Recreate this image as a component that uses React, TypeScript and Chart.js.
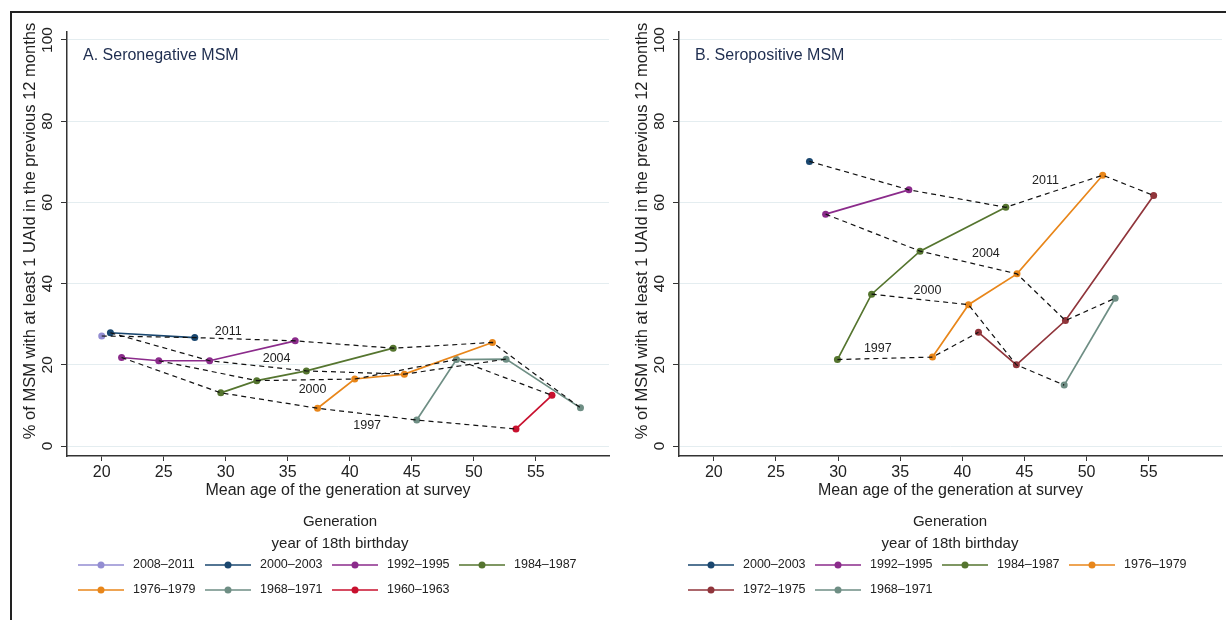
import React, { useEffect, useRef } from 'react';
import { Chart, registerables } from 'chart.js';

Chart.register(...registerables);

const FONT = '"Liberation Sans", Arial, Helvetica, sans-serif';

// ---- shared axis ticks / surveys ----
const xTicks = [20, 25, 30, 35, 40, 45, 50, 55];
const yTicks = [0, 20, 40, 60, 80, 100];
const surveyYears = ['1997', '2000', '2004', '2011'];
const yTitle = '% of MSM with at least 1 UAId in the previous 12 months';

// ---- Panel A: seronegative MSM (values per survey 1997, 2000, 2004, 2011) ----
const genLabelsA = ['2008–2011', '2000–2003', '1992–1995', '1984–1987', '1976–1979', '1968–1971', '1960–1963'];
const A_age_2008 = [null, null, null, 20.0];
const A_pct_2008 = [null, null, null, 27.1];
const A_age_2000 = [null, null, 20.7, 27.5];
const A_pct_2000 = [null, null, 27.9, 26.7];
const A_age_1992 = [21.6, 24.6, 28.7, 35.6];
const A_pct_1992 = [21.8, 21.0, 21.0, 25.9];
const A_age_1984 = [29.6, 32.5, 36.5, 43.5];
const A_pct_1984 = [13.1, 16.1, 18.5, 24.1];
const A_age_1976 = [37.4, 40.4, 44.4, 51.5];
const A_pct_1976 = [9.3, 16.5, 17.7, 25.5];
const A_age_1968 = [45.4, 48.6, 52.6, 58.6];
const A_pct_1968 = [6.4, 21.3, 21.4, 9.4];
const A_age_1960 = [53.4, 56.3, null, null];
const A_pct_1960 = [4.2, 12.5, null, null];
const surveyLabelAgeA = [41.4, 37.0, 34.1, 30.2];
const surveyLabelPctA = [5.0, 13.8, 21.6, 28.1];

// ---- Panel B: seropositive MSM ----
const genLabelsB = ['2000–2003', '1992–1995', '1984–1987', '1976–1979', '1972–1975', '1968–1971'];
const B_age_2000 = [null, null, null, 27.7];
const B_pct_2000 = [null, null, null, 70.1];
const B_age_1992 = [null, null, 29.0, 35.7];
const B_pct_1992 = [null, null, 57.1, 63.1];
const B_age_1984 = [29.95, 32.7, 36.6, 43.5];
const B_pct_1984 = [21.3, 37.4, 48.0, 58.8];
const B_age_1976 = [37.6, 40.5, 44.4, 51.3];
const B_pct_1976 = [21.9, 34.8, 42.4, 66.7];
const B_age_1972 = [41.3, 44.35, 48.3, 55.4];
const B_pct_1972 = [28.0, 20.0, 30.9, 61.7];
const B_age_1968 = [null, 48.2, 52.3, null];
const B_pct_1968 = [null, 15.0, 36.4, null];
const surveyLabelAgeB = [33.2, 37.2, 41.9, 46.7];
const surveyLabelPctB = [24.1, 38.4, 47.5, 65.5];

const genColors: Record<string, string> = {
  '2008–2011': '#938dd2',
  '2000–2003': '#1a476f',
  '1992–1995': '#8b2b8b',
  '1984–1987': '#55752f',
  '1976–1979': '#e8861a',
  '1972–1975': '#90353b',
  '1968–1971': '#6e8e84',
  '1960–1963': '#c8102e',
};

type Num = number | null;

function buildDatasets(labels: string[], ages: Num[][], pcts: Num[][]) {
  const genSets = labels.map((lab, i) => {
    const pts: { x: number; y: number }[] = [];
    ages[i].forEach((a, s) => {
      const p = pcts[i][s];
      if (a != null && p != null) pts.push({ x: a, y: p });
    });
    const c = genColors[lab];
    return {
      label: lab,
      data: pts,
      borderColor: c,
      backgroundColor: c,
      pointBackgroundColor: c,
      pointBorderColor: c,
      borderWidth: 1.7,
      pointRadius: 3.5,
      pointBorderWidth: 0,
      order: 2,
      isSurvey: false,
    };
  });
  const surveySets = surveyYears.map((yr, s) => {
    const pts: { x: number; y: number }[] = [];
    labels.forEach((_, i) => {
      const a = ages[i][s];
      const p = pcts[i][s];
      if (a != null && p != null) pts.push({ x: a, y: p });
    });
    pts.sort((p, q) => p.x - q.x);
    return {
      label: 'Survey ' + yr,
      data: pts,
      borderColor: '#111111',
      backgroundColor: '#111111',
      borderWidth: 1.2,
      borderDash: [5, 4],
      pointRadius: 0,
      order: 1,
      isSurvey: true,
    };
  });
  return [...genSets, ...surveySets];
}

interface PanelCfg {
  title: string;
  labels: string[];
  ages: Num[][];
  pcts: Num[][];
  labAge: number[];
  labPct: number[];
  padLeft: number;
  yWidth: number;
  legendCenter: number;
}

const panelA: PanelCfg = {
  title: 'A. Seronegative MSM',
  labels: genLabelsA,
  ages: [A_age_2008, A_age_2000, A_age_1992, A_age_1984, A_age_1976, A_age_1968, A_age_1960],
  pcts: [A_pct_2008, A_pct_2000, A_pct_1992, A_pct_1984, A_pct_1976, A_pct_1968, A_pct_1960],
  labAge: surveyLabelAgeA,
  labPct: surveyLabelPctA,
  padLeft: 0,
  yWidth: 54,
  legendCenter: 327,
};

const panelB: PanelCfg = {
  title: 'B. Seropositive MSM',
  labels: genLabelsB,
  ages: [B_age_2000, B_age_1992, B_age_1984, B_age_1976, B_age_1972, B_age_1968],
  pcts: [B_pct_2000, B_pct_1992, B_pct_1984, B_pct_1976, B_pct_1972, B_pct_1968],
  labAge: surveyLabelAgeB,
  labPct: surveyLabelPctB,
  padLeft: 13,
  yWidth: 53,
  legendCenter: 337,
};

function makeOverlay(cfg: PanelCfg) {
  return {
    id: 'overlay',
    afterDraw(chart: any) {
      const ctx = chart.ctx as CanvasRenderingContext2D;
      const area = chart.chartArea;
      const xs = chart.scales.x;
      const ys = chart.scales.y;
      ctx.save();
      // rotated y tick labels
      ctx.fillStyle = '#222';
      ctx.font = `15.5px ${FONT}`;
      ctx.textAlign = 'center';
      ctx.textBaseline = 'middle';
      yTicks.forEach((v) => {
        const py = ys.getPixelForValue(v);
        ctx.save();
        ctx.translate(area.left - 19, py);
        ctx.rotate(-Math.PI / 2);
        ctx.fillText(String(v), 0, 0);
        ctx.restore();
      });
      // y axis title
      ctx.save();
      ctx.font = `16.5px ${FONT}`;
      ctx.translate(area.left - 37, 217);
      ctx.rotate(-Math.PI / 2);
      ctx.fillText(yTitle, 0, 0);
      ctx.restore();
      // panel title
      ctx.fillStyle = '#1e2d4f';
      ctx.font = `16px ${FONT}`;
      ctx.textAlign = 'left';
      ctx.fillText(cfg.title, area.left + 16, area.top + 24);
      // survey labels
      ctx.fillStyle = '#222';
      ctx.font = `12.5px ${FONT}`;
      ctx.textAlign = 'center';
      surveyYears.forEach((yr, i) => {
        ctx.fillText(yr, xs.getPixelForValue(cfg.labAge[i]), ys.getPixelForValue(cfg.labPct[i]));
      });
      // legend
      const cx = cfg.legendCenter;
      ctx.font = `15px ${FONT}`;
      ctx.fillStyle = '#222';
      ctx.fillText('Generation', cx, 508);
      ctx.fillText('year of 18th birthday', cx, 530);
      const gens = chart.data.datasets.filter((d: any) => !d.isSurvey);
      ctx.font = `12.5px ${FONT}`;
      ctx.textAlign = 'left';
      gens.forEach((d: any, i: number) => {
        const col = i % 4;
        const row = Math.floor(i / 4);
        const x0 = cx - 262 + col * 127;
        const y = 551 + row * 25;
        ctx.strokeStyle = d.borderColor;
        ctx.lineWidth = 1.7;
        ctx.beginPath();
        ctx.moveTo(x0, y);
        ctx.lineTo(x0 + 46, y);
        ctx.stroke();
        ctx.fillStyle = d.borderColor;
        ctx.beginPath();
        ctx.arc(x0 + 23, y, 3.5, 0, Math.PI * 2);
        ctx.fill();
        ctx.fillStyle = '#222';
        ctx.fillText(d.label, x0 + 55, y);
      });
      ctx.restore();
    },
  };
}

function Panel({ cfg, left, width }: { cfg: PanelCfg; left: number; width: number }) {
  const ref = useRef<HTMLCanvasElement | null>(null);
  useEffect(() => {
    if (!ref.current) return;
    const chart = new Chart(ref.current, {
      type: 'line',
      data: { datasets: buildDatasets(cfg.labels, cfg.ages, cfg.pcts) as any },
      options: {
        animation: false,
        responsive: true,
        maintainAspectRatio: false,
        layout: { padding: { left: cfg.padLeft, right: 4, top: 18, bottom: 114 } },
        plugins: { legend: { display: false }, tooltip: { enabled: false } },
        elements: { line: { tension: 0 } },
        scales: {
          x: {
            type: 'linear',
            min: 17.2,
            max: 60.9,
            afterFit: (s: any) => {
              s.height = 50;
            },
            afterBuildTicks: (s: any) => {
              s.ticks = xTicks.map((v) => ({ value: v }));
            },
            ticks: {
              font: { family: FONT, size: 16 },
              color: '#222',
              padding: 2,
              maxRotation: 0,
              autoSkip: false,
            },
            grid: { drawOnChartArea: false, drawTicks: true, tickLength: 5, tickColor: '#333' },
            border: { color: '#333', width: 1.5 },
            title: {
              display: true,
              text: 'Mean age of the generation at survey',
              font: { family: FONT, size: 16 },
              color: '#222',
              padding: { top: 0, bottom: 6 },
            },
          },
          y: {
            type: 'linear',
            min: -2.46,
            max: 101.97,
            afterFit: (s: any) => {
              s.width = cfg.yWidth;
            },
            afterBuildTicks: (s: any) => {
              s.ticks = yTicks.map((v) => ({ value: v }));
            },
            ticks: { display: false },
            grid: { color: '#e4edf0', lineWidth: 1, tickLength: 6, tickColor: '#333' },
            border: { color: '#333', width: 1.5 },
            title: { display: false },
          },
        },
      } as any,
      plugins: [makeOverlay(cfg)],
    });
    return () => chart.destroy();
  }, [cfg]);
  return (
    <div style={{ position: 'absolute', left, top: 14, width, height: 606 }}>
      <canvas ref={ref} />
    </div>
  );
}

export default function App() {
  return (
    <div
      style={{
        position: 'fixed',
        left: 0,
        top: 0,
        width: 1226,
        height: 620,
        background: '#fff',
        overflow: 'hidden',
        fontFamily: FONT,
      }}
    >
      <div
        style={{
          position: 'absolute',
          left: 10,
          top: 11,
          width: 1226,
          height: 700,
          borderTop: '2.5px solid #222',
          borderLeft: '2.5px solid #222',
          boxSizing: 'border-box',
        }}
      />
      <Panel cfg={panelA} left={13} width={600} />
      <Panel cfg={panelB} left={613} width={613} />
    </div>
  );
}
